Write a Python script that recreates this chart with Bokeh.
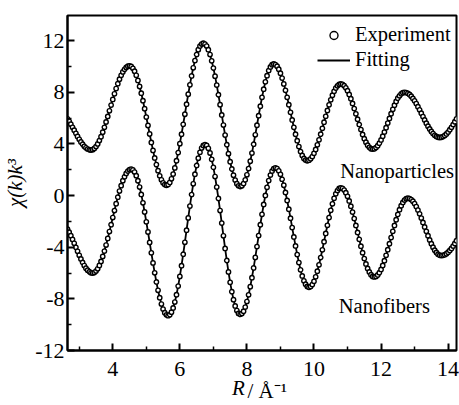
from bokeh.plotting import figure
from bokeh.models import (Range1d, FixedTicker, Label, Legend, LegendItem,
                          ColumnDataSource, LinearAxis)
from bokeh.embed import file_html
from bokeh.resources import INLINE

# ---------------- data ----------------
R_START = 2.65
R_STEP = 0.05

chi_nanoparticles = [
    5.95, 5.75, 5.53, 5.29, 5.06, 4.82, 4.58, 4.36, 4.16, 3.98,
    3.82, 3.70, 3.60, 3.55, 3.53, 3.56, 3.65, 3.80, 4.00, 4.26,
    4.56, 4.91, 5.29, 5.70, 6.13, 6.57, 7.01, 7.45, 7.88, 8.29,
    8.67, 9.02, 9.32, 9.58, 9.78, 9.93, 10.02, 10.05, 10.00, 9.86,
    9.63, 9.32, 8.92, 8.45, 7.93, 7.35, 6.73, 6.08, 5.43, 4.77,
    4.12, 3.50, 2.92, 2.40, 1.93, 1.53, 1.22, 0.99, 0.85, 0.80,
    0.86, 1.02, 1.30, 1.67, 2.14, 2.70, 3.33, 4.02, 4.75, 5.52,
    6.30, 7.08, 7.85, 8.58, 9.27, 9.90, 10.46, 10.93, 11.30, 11.58,
    11.74, 11.80, 11.74, 11.58, 11.30, 10.92, 10.44, 9.88, 9.25, 8.56,
    7.81, 7.04, 6.25, 5.46, 4.69, 3.94, 3.25, 2.62, 2.06, 1.58,
    1.20, 0.92, 0.76, 0.70, 0.76, 0.93, 1.22, 1.61, 2.09, 2.66,
    3.29, 3.98, 4.71, 5.45, 6.19, 6.92, 7.61, 8.24, 8.81, 9.29,
    9.68, 9.97, 10.14, 10.20, 10.15, 10.02, 9.79, 9.48, 9.10, 8.65,
    8.15, 7.61, 7.04, 6.45, 5.86, 5.29, 4.75, 4.25, 3.80, 3.42,
    3.11, 2.88, 2.75, 2.70, 2.74, 2.85, 3.02, 3.27, 3.57, 3.93,
    4.32, 4.76, 5.21, 5.68, 6.14, 6.59, 7.03, 7.42, 7.78, 8.08,
    8.33, 8.50, 8.61, 8.65, 8.62, 8.51, 8.35, 8.12, 7.84, 7.51,
    7.14, 6.74, 6.33, 5.92, 5.51, 5.11, 4.74, 4.41, 4.13, 3.90,
    3.74, 3.63, 3.60, 3.63, 3.72, 3.87, 4.06, 4.31, 4.60, 4.92,
    5.26, 5.62, 5.98, 6.34, 6.68, 7.00, 7.29, 7.54, 7.73, 7.88,
    7.97, 8.00, 7.98, 7.92, 7.83, 7.70, 7.53, 7.34, 7.13, 6.89,
    6.64, 6.38, 6.12, 5.86, 5.61, 5.38, 5.16, 4.97, 4.80, 4.67,
    4.58, 4.52, 4.50, 4.52, 4.57, 4.66, 4.78, 4.92, 5.10, 5.29,
    5.50, 5.72, 5.95,
]

chi_nanofibers = [
    -2.60, -2.84, -3.11, -3.40, -3.70, -4.01, -4.32, -4.63, -4.91, -5.18,
    -5.42, -5.62, -5.78, -5.90, -5.98, -6.00, -5.96, -5.85, -5.67, -5.41,
    -5.10, -4.72, -4.30, -3.83, -3.32, -2.79, -2.25, -1.70, -1.16, -0.63,
    -0.12, 0.35, 0.77, 1.15, 1.46, 1.72, 1.90, 2.01, 2.05, 1.99,
    1.82, 1.54, 1.15, 0.66, 0.09, -0.56, -1.27, -2.03, -2.82, -3.63,
    -4.43, -5.22, -5.98, -6.69, -7.34, -7.91, -8.40, -8.79, -9.07, -9.24,
    -9.30, -9.23, -9.03, -8.70, -8.25, -7.68, -7.01, -6.26, -5.43, -4.54,
    -3.62, -2.68, -1.73, -0.81, 0.08, 0.91, 1.66, 2.33, 2.90, 3.35,
    3.68, 3.88, 3.95, 3.88, 3.66, 3.30, 2.81, 2.19, 1.47, 0.66,
    -0.22, -1.16, -2.13, -3.12, -4.09, -5.03, -5.91, -6.72, -7.44, -8.06,
    -8.55, -8.91, -9.13, -9.20, -9.14, -8.95, -8.64, -8.21, -7.69, -7.06,
    -6.36, -5.60, -4.79, -3.95, -3.10, -2.26, -1.45, -0.69, 0.01, 0.64,
    1.16, 1.59, 1.90, 2.09, 2.15, 2.09, 1.92, 1.65, 1.27, 0.80,
    0.24, -0.38, -1.05, -1.75, -2.48, -3.20, -3.90, -4.57, -5.19, -5.75,
    -6.22, -6.60, -6.87, -7.04, -7.10, -7.05, -6.89, -6.64, -6.29, -5.86,
    -5.36, -4.80, -4.20, -3.57, -2.93, -2.30, -1.70, -1.14, -0.64, -0.21,
    0.14, 0.39, 0.55, 0.60, 0.56, 0.43, 0.22, -0.06, -0.41, -0.82,
    -1.28, -1.78, -2.31, -2.85, -3.39, -3.92, -4.42, -4.88, -5.29, -5.64,
    -5.92, -6.13, -6.26, -6.30, -6.26, -6.15, -5.97, -5.72, -5.41, -5.04,
    -4.63, -4.19, -3.73, -3.25, -2.77, -2.31, -1.87, -1.46, -1.09, -0.78,
    -0.53, -0.35, -0.24, -0.20, -0.23, -0.31, -0.44, -0.62, -0.85, -1.12,
    -1.41, -1.74, -2.08, -2.43, -2.77, -3.11, -3.44, -3.73, -4.00, -4.23,
    -4.41, -4.54, -4.62, -4.65, -4.63, -4.58, -4.50, -4.39, -4.25, -4.09,
    -3.91, -3.71, -3.50,
]

r_values = [round(R_START + R_STEP * i, 2) for i in range(len(chi_nanoparticles))]

x_ticks = [4, 6, 8, 10, 12, 14]
x_minor_ticks = [3, 5, 7, 9, 11, 13]
y_ticks = [-12, -8, -4, 0, 4, 8, 12]
y_minor_ticks = [-10, -6, -2, 2, 6, 10]
y_tick_labels = ["-12", "-8", "-4", "0", "4", "8", "12"]
x_tick_labels = ["4", "6", "8", "10", "12", "14"]

series_names = ["Nanoparticles", "Nanofibers"]
legend_names = ["Experiment", "Fitting"]
y_label_text = "\u03c7(k)k\u00b3"
NBSP = "\u00a0"
x_label_italic = "R" + NBSP * 9
x_label_upright = NBSP * 2 + "/ \u00c5\u207b\u00b9"

# ---------------- figure ----------------
FONT = "Liberation Serif"

p = figure(width=459, height=405, x_range=Range1d(2.65, 14.25),
           y_range=Range1d(-12, 13.95), output_backend="svg",
           toolbar_location=None, min_border_left=67, min_border_right=3,
           min_border_top=15, min_border_bottom=55)
p.xgrid.visible = False
p.ygrid.visible = False
p.outline_line_color = "black"
p.outline_line_width = 2
p.background_fill_color = "white"
p.border_fill_color = "white"

src_np = ColumnDataSource(dict(r=r_values, chi=chi_nanoparticles))
src_nf = ColumnDataSource(dict(r=r_values, chi=chi_nanofibers))

fit_renderers = []
exp_renderers = []
for src in (src_np, src_nf):
    fit_renderers.append(p.line("r", "chi", source=src, line_color="black",
                                line_width=1.8))
for src in (src_np, src_nf):
    exp_renderers.append(p.scatter("r", "chi", source=src, marker="circle",
                                   size=4.4, line_color="black", line_width=1.4,
                                   fill_color="white"))

# axes
for ax in (p.xaxis[0], p.yaxis[0]):
    ax.axis_line_width = 2
    ax.axis_line_color = "black"
    ax.major_tick_in = 7
    ax.major_tick_out = 0
    ax.minor_tick_in = 4
    ax.minor_tick_out = 0
    ax.major_tick_line_width = 2
    ax.minor_tick_line_width = 1.5
    ax.major_tick_line_color = "black"
    ax.minor_tick_line_color = "black"
    ax.major_label_text_font = FONT
    ax.major_label_text_font_size = "22px"
    ax.major_label_text_color = "black"
    ax.axis_label_text_font = FONT
    ax.axis_label_text_font_size = "21px"
    ax.axis_label_text_font_style = "italic"
    ax.axis_label_text_color = "black"

p.xaxis[0].ticker = FixedTicker(ticks=x_ticks, minor_ticks=x_minor_ticks)
p.yaxis[0].ticker = FixedTicker(ticks=y_ticks, minor_ticks=y_minor_ticks)
p.xaxis[0].major_label_overrides = {t: s for t, s in zip(x_ticks, x_tick_labels)}
p.yaxis[0].major_label_overrides = {t: s for t, s in zip(y_ticks, y_tick_labels)}
p.xaxis[0].major_label_standoff = 11
p.yaxis[0].major_label_standoff = 3
p.yaxis[0].axis_label = y_label_text
p.yaxis[0].axis_label_standoff = 5
p.xaxis[0].axis_label = x_label_italic
p.xaxis[0].axis_label_standoff = -3

# second, invisible bottom axis carrying the upright part of the x title
ax2 = LinearAxis(ticker=FixedTicker(ticks=[]), axis_line_color=None,
                 major_tick_in=0, major_tick_out=0, minor_tick_in=0,
                 minor_tick_out=0, major_label_standoff=0,
                 axis_label=x_label_upright, axis_label_standoff=-24,
                 axis_label_text_font=FONT, axis_label_text_font_size="21px",
                 axis_label_text_font_style="normal",
                 axis_label_text_color="black")
p.add_layout(ax2, "below")

# series annotations
p.add_layout(Label(x=10.78, y=1.9, text=series_names[0], text_font=FONT,
                   text_font_size="20.5px", text_align="left",
                   text_baseline="alphabetic", text_color="black"))
p.add_layout(Label(x=10.74, y=-8.57, text=series_names[1], text_font=FONT,
                   text_font_size="20.5px", text_align="left",
                   text_baseline="alphabetic", text_color="black"))

legend = Legend(items=[LegendItem(label=legend_names[0], renderers=[exp_renderers[0]]),
                       LegendItem(label=legend_names[1], renderers=[fit_renderers[0]])],
                location=(250, 279), padding=0, margin=0, spacing=2,
                glyph_width=33, glyph_height=20, label_height=20,
                label_standoff=5, background_fill_alpha=0,
                border_line_alpha=0, label_text_font=FONT,
                label_text_font_size="20.5px", label_text_color="black")
p.add_layout(legend)

open("out.html", "w").write(file_html(p, INLINE))
